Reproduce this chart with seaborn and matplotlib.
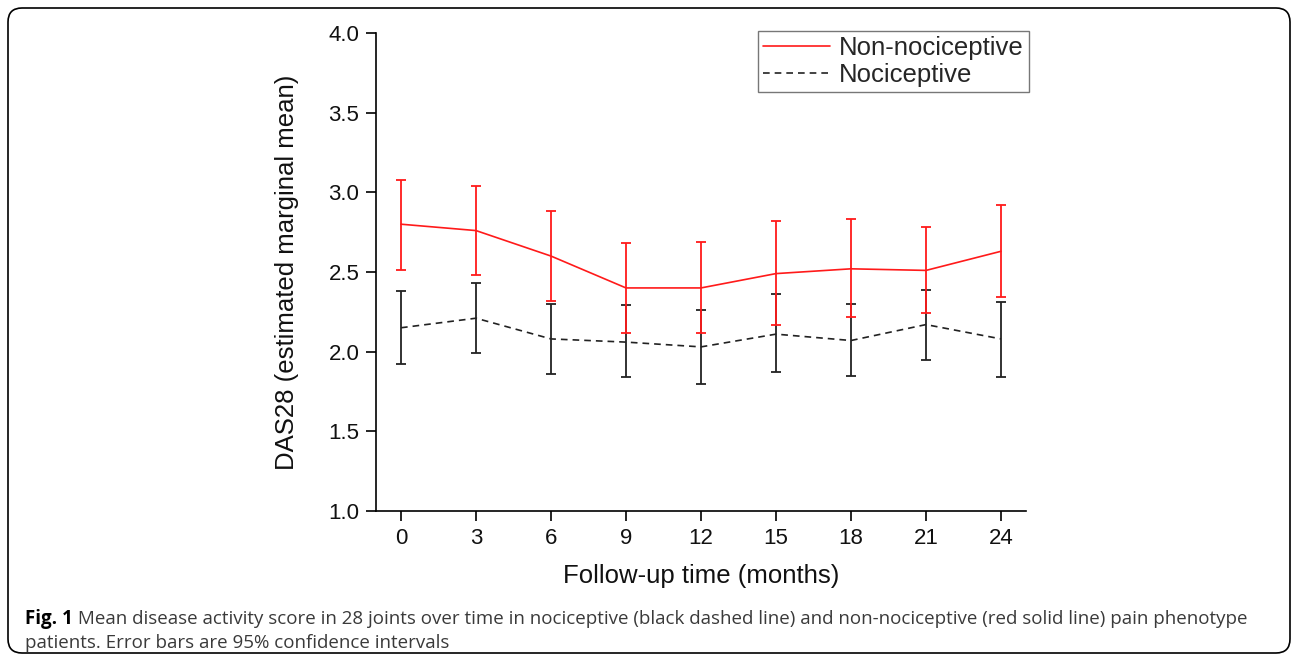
import numpy as np
import pandas as pd
import seaborn as sns
import matplotlib
matplotlib.use('Agg')
import matplotlib.pyplot as plt
from matplotlib.patches import FancyBboxPatch

# values
months = [0, 3, 6, 9, 12, 15, 18, 21, 24]
non_noc_mean = [2.80, 2.76, 2.60, 2.40, 2.40, 2.49, 2.52, 2.51, 2.63]
non_noc_lo = [2.51, 2.48, 2.32, 2.12, 2.12, 2.17, 2.22, 2.24, 2.34]
non_noc_hi = [3.08, 3.04, 2.88, 2.68, 2.69, 2.82, 2.83, 2.78, 2.92]
noc_mean = [2.15, 2.21, 2.08, 2.06, 2.03, 2.11, 2.07, 2.17, 2.08]
noc_lo = [1.92, 1.99, 1.86, 1.84, 1.80, 1.87, 1.85, 1.95, 1.84]
noc_hi = [2.38, 2.43, 2.30, 2.29, 2.26, 2.36, 2.30, 2.39, 2.31]
groups = ['Non-nociceptive', 'Nociceptive']

caption_bold = 'Fig. 1'
caption_1 = (' Mean disease activity score in 28 joints over time in nociceptive '
             '(black dashed line) and non-nociceptive (red solid line) pain phenotype')
caption_2 = 'patients. Error bars are 95% confidence intervals'

sns.set_style('ticks')
plt.rcParams['font.family'] = ['Liberation Sans', 'DejaVu Sans']

df = pd.DataFrame({
    'Month': months * 2,
    'DAS28': non_noc_mean + noc_mean,
    'lo': non_noc_lo + noc_lo,
    'hi': non_noc_hi + noc_hi,
    'Group': [groups[0]] * len(months) + [groups[1]] * len(months),
})

W, H = 1292, 660
fig = plt.figure(figsize=(W / 100, H / 100), dpi=100)
ax = fig.add_axes([376 / W, 1 - 511 / H, 650 / W, 478 / H])

colors = {groups[0]: '#ff1a1a', groups[1]: '#222222'}
sns.lineplot(data=df, x='Month', y='DAS28', hue='Group', style='Group',
             palette=colors, dashes={groups[0]: '', groups[1]: (4, 3)},
             linewidth=1.2, ax=ax, zorder=3)

# error bars: black first, red on top
for g in [groups[1], groups[0]]:
    d = df[df.Group == g]
    ax.errorbar(d.Month, d.DAS28, yerr=[d.DAS28 - d.lo, d.hi - d.DAS28],
                fmt='none', ecolor=colors[g], elinewidth=1.3, capsize=3.8,
                capthick=1.3, zorder=2)

ax.set_xlim(-1, 25)
ax.set_ylim(1.0, 4.0)
ax.set_xticks(months)
ax.set_yticks(np.arange(1.0, 4.01, 0.5))
ax.set_yticklabels([f'{v:.1f}' for v in np.arange(1.0, 4.01, 0.5)])
sns.despine(ax=ax)
for s in ['left', 'bottom']:
    ax.spines[s].set_linewidth(1.2)
    ax.spines[s].set_color('black')
ax.tick_params(axis='both', direction='out', length=7, width=1.2,
               labelsize=16, pad=5, color='black', labelcolor='#111111')

ax.set_xlabel('Follow-up time (months)', fontsize=18.5, color='#111111')
ax.set_ylabel('DAS28 (estimated marginal mean)', fontsize=18.5, color='#111111')
ax.xaxis.set_label_coords(0.5, -0.11)
ax.yaxis.set_label_coords(-0.118, 0.5)

leg = ax.legend(loc='upper right', bbox_to_anchor=(1029 / W, 1 - 31 / H),
                bbox_transform=fig.transFigure, borderaxespad=0,
                fontsize=18.5, frameon=True, fancybox=False, handlelength=2.6,
                handletextpad=0.35, borderpad=0.2, labelspacing=0.12)
leg.get_frame().set_edgecolor('#555555')
leg.get_frame().set_linewidth(1.0)

# rounded frame round the whole figure
box = FancyBboxPatch((8 / W, (H - 653) / H), (1290 - 8) / W, (653 - 8) / H,
                     boxstyle='round,pad=0,rounding_size=%f' % (14 / W),
                     mutation_aspect=W / H, transform=fig.transFigure,
                     facecolor='none', edgecolor='black', linewidth=1.2)
fig.patches.append(box)

# caption
cap_font = ['Open Sans', 'DejaVu Sans']
t1 = fig.text(25 / W, (H - 624) / H, caption_bold, fontsize=13.5, weight='bold',
              family=cap_font, color='black', va='baseline')
fig.canvas.draw()
bb = t1.get_window_extent(fig.canvas.get_renderer())
fig.text(bb.x1 / W, (H - 624) / H, caption_1, fontsize=13.5, family=cap_font,
         color='#3a3a3a', va='baseline')
fig.text(25 / W, (H - 648) / H, caption_2, fontsize=13.5, family=cap_font,
         color='#3a3a3a', va='baseline')

fig.savefig('out.png', dpi=100)
